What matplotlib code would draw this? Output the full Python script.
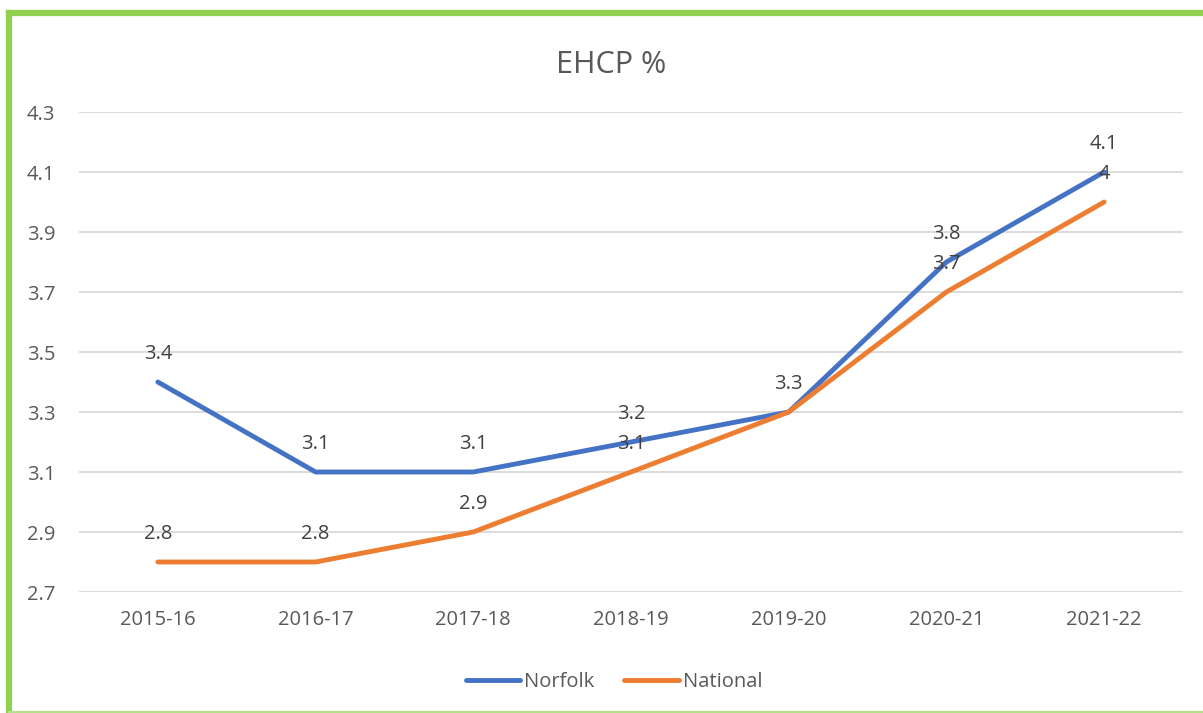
import matplotlib.pyplot as plt
from matplotlib.lines import Line2D

years = ["2015-16", "2016-17", "2017-18", "2018-19", "2019-20", "2020-21", "2021-22"]
norfolk = [3.4, 3.1, 3.1, 3.2, 3.3, 3.8, 4.1]
national = [2.8, 2.8, 2.9, 3.1, 3.3, 3.7, 4.0]
yticks = [2.7, 2.9, 3.1, 3.3, 3.5, 3.7, 3.9, 4.1, 4.3]

plt.rcParams["font.family"] = ["Open Sans", "DejaVu Sans"]
txt = "#595959"
blue = "#4472C4"
orange = "#ED7D31"
green = "#92D050"

fig = plt.figure(figsize=(12.03, 7.13), dpi=100)
ax = fig.add_axes([79 / 1203, 1 - 592 / 713, (1183 - 79) / 1203, (592 - 112) / 713])

x = list(range(len(years)))
ax.plot(x, norfolk, color=blue, lw=3.5, solid_capstyle="round", label="Norfolk", zorder=3)
ax.plot(x, national, color=orange, lw=3.5, solid_capstyle="round", label="National", zorder=3)

for i, v in enumerate(norfolk):
    ax.annotate("%g" % v, (i, v), xytext=(0, 13), textcoords="offset points",
                ha="center", va="bottom", fontsize=14.5, color="#404040")
for i, v in enumerate(national):
    if v == norfolk[i]:
        continue  # labels sit on top of each other
    ax.annotate("%g" % v, (i, v), xytext=(0, 13), textcoords="offset points",
                ha="center", va="bottom", fontsize=14.5, color="#404040")

ax.set_xlim(-0.5, 6.5)
ax.set_ylim(2.7, 4.3)
ax.set_yticks(yticks)
ax.set_yticklabels(["%.1f" % t for t in yticks])
ax.set_xticks(x)
ax.set_xticklabels(years)
ax.grid(axis="y", color="#d9d9d9", lw=1.3)
ax.set_axisbelow(True)
for s in ax.spines.values():
    s.set_visible(False)
ax.tick_params(length=0, labelsize=14.5, colors=txt)
ax.tick_params(axis="y", pad=17)
ax.tick_params(axis="x", pad=13)

fig.text(611 / 1203, 1 - 65 / 713, "EHCP %", ha="center", va="center", fontsize=22, color=txt)

handles = [Line2D([], [], color=blue, lw=3.5, solid_capstyle="round"),
           Line2D([], [], color=orange, lw=3.5, solid_capstyle="round")]
fig.legend(handles, ["Norfolk", "National"], loc="center", bbox_to_anchor=(614 / 1203, 1 - 682 / 713),
           ncol=2, frameon=False, fontsize=14.5, labelcolor=txt, handlelength=2.7,
           handletextpad=0.2, columnspacing=1.5)

# green border (left, top, bottom)
fig.add_artist(Line2D([9 / 1203, 9 / 1203], [1 - 711 / 713, 1 - 13 / 713], color=green, lw=4.5,
                      transform=fig.transFigure))
fig.add_artist(Line2D([9 / 1203, 1], [1 - 13 / 713, 1 - 13 / 713], color=green, lw=4.5,
                      transform=fig.transFigure))
fig.add_artist(Line2D([9 / 1203, 1], [1 - 711.5 / 713, 1 - 711.5 / 713], color="#b4e08a", lw=1.5,
                      transform=fig.transFigure))

fig.savefig("out.png", dpi=100)
